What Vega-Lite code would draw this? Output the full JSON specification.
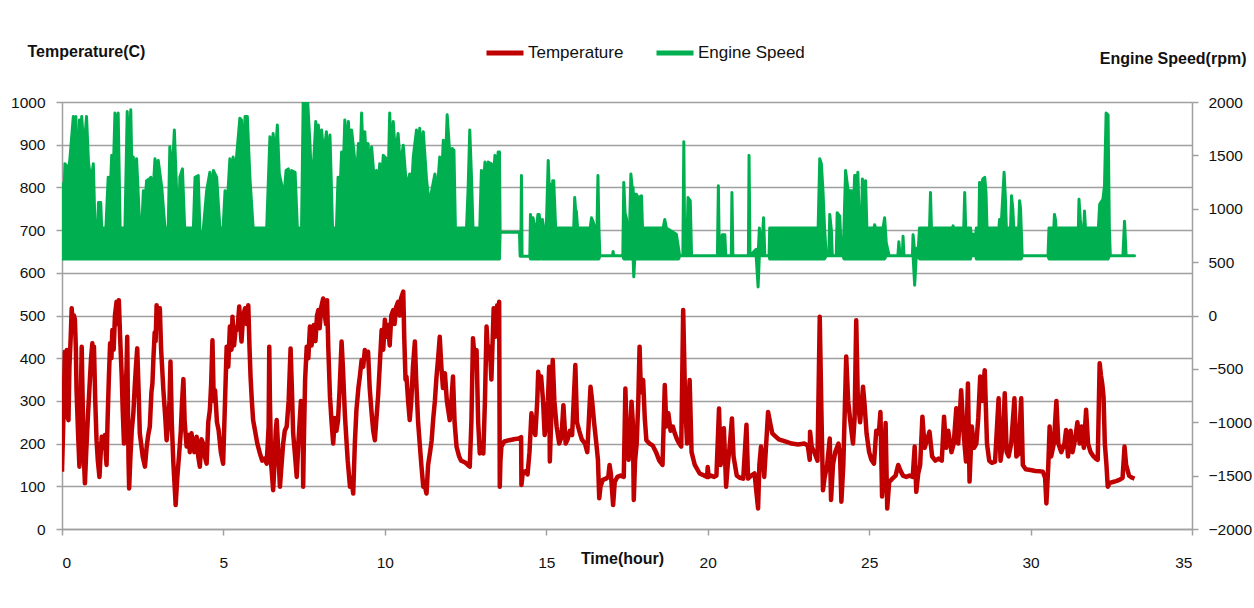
{
  "$schema": "https://vega.github.io/schema/vega-lite/v6.json",
  "width": 1130,
  "height": 427,
  "autosize": {"type": "none"},
  "padding": {"left": 62, "top": 102, "right": 62, "bottom": 79},
  "background": "white",
  "config": {
    "font": "Liberation Sans, Arial, sans-serif",
    "view": {"stroke": null},
    "axis": {
      "labelFontSize": 15.5,
      "labelColor": "#111111",
      "titleFontSize": 16,
      "titleFontWeight": "bold",
      "titleColor": "#111111",
      "domainColor": "#a0a0a0",
      "domainWidth": 1.5,
      "tickColor": "#a0a0a0",
      "tickWidth": 1.5,
      "tickSize": 6,
      "gridColor": "#a0a0a0",
      "gridWidth": 1.5
    },
    "legend": {
      "labelFontSize": 17,
      "labelColor": "#111111"
    }
  },
  "datasets": {
    "temp": [
      {"t":0.00,"v":134},{"t":0.04,"v":250},{"t":0.07,"v":349},{"t":0.09,"v":415},{"t":0.12,"v":300},{"t":0.15,"v":419},{"t":0.18,"v":260},{"t":0.20,"v":255},{"t":0.23,"v":380},{"t":0.27,"v":450},{"t":0.30,"v":517},{"t":0.33,"v":480},{"t":0.37,"v":500},{"t":0.40,"v":490},{"t":0.43,"v":420},{"t":0.45,"v":325},{"t":0.50,"v":220},{"t":0.54,"v":146},{"t":0.57,"v":250},{"t":0.61,"v":427},{"t":0.64,"v":300},{"t":0.67,"v":180},{"t":0.71,"v":107},{"t":0.75,"v":180},{"t":0.80,"v":260},{"t":0.85,"v":330},{"t":0.90,"v":400},{"t":0.94,"v":435},{"t":0.97,"v":380},{"t":0.99,"v":427},{"t":1.03,"v":300},{"t":1.07,"v":208},{"t":1.11,"v":160},{"t":1.16,"v":122},{"t":1.20,"v":180},{"t":1.23,"v":216},{"t":1.28,"v":190},{"t":1.33,"v":220},{"t":1.36,"v":170},{"t":1.38,"v":150},{"t":1.41,"v":250},{"t":1.45,"v":350},{"t":1.49,"v":435},{"t":1.53,"v":400},{"t":1.56,"v":466},{"t":1.60,"v":420},{"t":1.64,"v":500},{"t":1.69,"v":532},{"t":1.72,"v":480},{"t":1.76,"v":536},{"t":1.80,"v":450},{"t":1.85,"v":357},{"t":1.88,"v":280},{"t":1.92,"v":200},{"t":1.96,"v":300},{"t":2.00,"v":380},{"t":2.02,"v":450},{"t":2.04,"v":300},{"t":2.06,"v":160},{"t":2.08,"v":95},{"t":2.12,"v":170},{"t":2.16,"v":230},{"t":2.21,"v":271},{"t":2.25,"v":330},{"t":2.29,"v":380},{"t":2.33,"v":423},{"t":2.37,"v":330},{"t":2.41,"v":224},{"t":2.45,"v":200},{"t":2.50,"v":170},{"t":2.57,"v":146},{"t":2.62,"v":190},{"t":2.67,"v":220},{"t":2.72,"v":240},{"t":2.77,"v":320},{"t":2.80,"v":340},{"t":2.83,"v":396},{"t":2.87,"v":460},{"t":2.90,"v":440},{"t":2.93,"v":524},{"t":2.97,"v":490},{"t":3.00,"v":510},{"t":3.03,"v":517},{"t":3.07,"v":420},{"t":3.10,"v":380},{"t":3.14,"v":325},{"t":3.20,"v":260},{"t":3.24,"v":208},{"t":3.29,"v":250},{"t":3.33,"v":300},{"t":3.36,"v":392},{"t":3.40,"v":250},{"t":3.45,"v":153},{"t":3.49,"v":100},{"t":3.52,"v":56},{"t":3.57,"v":120},{"t":3.63,"v":177},{"t":3.68,"v":230},{"t":3.72,"v":300},{"t":3.76,"v":351},{"t":3.80,"v":250},{"t":3.86,"v":193},{"t":3.92,"v":220},{"t":3.96,"v":180},{"t":4.01,"v":224},{"t":4.06,"v":200},{"t":4.10,"v":180},{"t":4.17,"v":216},{"t":4.22,"v":170},{"t":4.27,"v":146},{"t":4.32,"v":210},{"t":4.37,"v":200},{"t":4.42,"v":170},{"t":4.48,"v":153},{"t":4.53,"v":250},{"t":4.58,"v":279},{"t":4.62,"v":340},{"t":4.66,"v":442},{"t":4.70,"v":300},{"t":4.74,"v":325},{"t":4.80,"v":250},{"t":4.85,"v":232},{"t":4.92,"v":180},{"t":4.99,"v":153},{"t":5.05,"v":300},{"t":5.10,"v":427},{"t":5.15,"v":380},{"t":5.20,"v":474},{"t":5.25,"v":420},{"t":5.28,"v":497},{"t":5.33,"v":430},{"t":5.38,"v":470},{"t":5.41,"v":466},{"t":5.45,"v":480},{"t":5.49,"v":521},{"t":5.53,"v":470},{"t":5.56,"v":439},{"t":5.61,"v":500},{"t":5.67,"v":517},{"t":5.72,"v":480},{"t":5.77,"v":524},{"t":5.81,"v":420},{"t":5.84,"v":357},{"t":5.88,"v":300},{"t":5.92,"v":255},{"t":5.98,"v":230},{"t":6.05,"v":200},{"t":6.13,"v":177},{"t":6.20,"v":160},{"t":6.27,"v":165},{"t":6.34,"v":153},{"t":6.40,"v":240},{"t":6.42,"v":427},{"t":6.44,"v":300},{"t":6.48,"v":150},{"t":6.54,"v":91},{"t":6.58,"v":150},{"t":6.62,"v":230},{"t":6.65,"v":255},{"t":6.70,"v":180},{"t":6.75,"v":99},{"t":6.80,"v":150},{"t":6.85,"v":200},{"t":6.90,"v":230},{"t":6.96,"v":240},{"t":7.02,"v":300},{"t":7.08,"v":423},{"t":7.12,"v":330},{"t":7.16,"v":224},{"t":7.22,"v":170},{"t":7.27,"v":122},{"t":7.32,"v":200},{"t":7.36,"v":250},{"t":7.40,"v":300},{"t":7.44,"v":280},{"t":7.46,"v":200},{"t":7.47,"v":99},{"t":7.49,"v":200},{"t":7.53,"v":350},{"t":7.58,"v":427},{"t":7.63,"v":400},{"t":7.68,"v":474},{"t":7.73,"v":430},{"t":7.80,"v":478},{"t":7.85,"v":440},{"t":7.90,"v":500},{"t":7.94,"v":513},{"t":7.98,"v":470},{"t":8.03,"v":520},{"t":8.09,"v":540},{"t":8.14,"v":500},{"t":8.18,"v":480},{"t":8.21,"v":536},{"t":8.25,"v":420},{"t":8.30,"v":310},{"t":8.35,"v":250},{"t":8.40,"v":200},{"t":8.45,"v":260},{"t":8.50,"v":230},{"t":8.55,"v":255},{"t":8.60,"v":330},{"t":8.66,"v":439},{"t":8.70,"v":380},{"t":8.76,"v":271},{"t":8.80,"v":220},{"t":8.85,"v":160},{"t":8.92,"v":99},{"t":8.96,"v":120},{"t":9.02,"v":83},{"t":9.07,"v":200},{"t":9.12,"v":279},{"t":9.18,"v":330},{"t":9.23,"v":360},{"t":9.28,"v":396},{"t":9.33,"v":380},{"t":9.38,"v":419},{"t":9.43,"v":400},{"t":9.48,"v":415},{"t":9.53,"v":330},{"t":9.59,"v":271},{"t":9.64,"v":230},{"t":9.69,"v":208},{"t":9.74,"v":260},{"t":9.79,"v":310},{"t":9.84,"v":380},{"t":9.90,"v":466},{"t":9.95,"v":420},{"t":10.00,"v":490},{"t":10.05,"v":450},{"t":10.10,"v":478},{"t":10.15,"v":430},{"t":10.20,"v":500},{"t":10.26,"v":513},{"t":10.30,"v":480},{"t":10.35,"v":520},{"t":10.41,"v":532},{"t":10.46,"v":500},{"t":10.50,"v":540},{"t":10.57,"v":556},{"t":10.60,"v":450},{"t":10.64,"v":350},{"t":10.67,"v":357},{"t":10.72,"v":300},{"t":10.77,"v":255},{"t":10.82,"v":300},{"t":10.87,"v":380},{"t":10.93,"v":439},{"t":10.97,"v":350},{"t":11.03,"v":250},{"t":11.08,"v":200},{"t":11.13,"v":150},{"t":11.19,"v":99},{"t":11.24,"v":100},{"t":11.29,"v":83},{"t":11.34,"v":150},{"t":11.40,"v":180},{"t":11.45,"v":208},{"t":11.50,"v":260},{"t":11.55,"v":300},{"t":11.60,"v":357},{"t":11.65,"v":400},{"t":11.70,"v":450},{"t":11.75,"v":380},{"t":11.80,"v":330},{"t":11.86,"v":365},{"t":11.92,"v":300},{"t":11.96,"v":280},{"t":12.01,"v":255},{"t":12.06,"v":300},{"t":12.11,"v":357},{"t":12.16,"v":250},{"t":12.22,"v":193},{"t":12.30,"v":170},{"t":12.36,"v":160},{"t":12.42,"v":158},{"t":12.50,"v":155},{"t":12.57,"v":150},{"t":12.63,"v":146},{"t":12.68,"v":250},{"t":12.73,"v":447},{"t":12.78,"v":400},{"t":12.84,"v":419},{"t":12.89,"v":250},{"t":12.94,"v":177},{"t":13.00,"v":200},{"t":13.05,"v":177},{"t":13.10,"v":300},{"t":13.15,"v":474},{"t":13.20,"v":400},{"t":13.25,"v":427},{"t":13.30,"v":350},{"t":13.37,"v":517},{"t":13.42,"v":450},{"t":13.48,"v":524},{"t":13.52,"v":510},{"t":13.54,"v":532},{"t":13.56,"v":99},{"t":13.58,"v":160},{"t":13.61,"v":193},{"t":13.70,"v":205},{"t":13.85,"v":208},{"t":14.00,"v":210},{"t":14.15,"v":212},{"t":14.22,"v":215},{"t":14.23,"v":103},{"t":14.27,"v":130},{"t":14.35,"v":135},{"t":14.42,"v":128},{"t":14.48,"v":180},{"t":14.54,"v":271},{"t":14.60,"v":240},{"t":14.66,"v":220},{"t":14.72,"v":300},{"t":14.75,"v":368},{"t":14.80,"v":330},{"t":14.84,"v":357},{"t":14.90,"v":300},{"t":14.95,"v":220},{"t":15.00,"v":250},{"t":15.05,"v":300},{"t":15.09,"v":380},{"t":15.11,"v":158},{"t":15.15,"v":250},{"t":15.20,"v":396},{"t":15.25,"v":300},{"t":15.32,"v":240},{"t":15.40,"v":200},{"t":15.47,"v":215},{"t":15.53,"v":290},{"t":15.60,"v":200},{"t":15.66,"v":210},{"t":15.73,"v":230},{"t":15.80,"v":220},{"t":15.90,"v":384},{"t":15.95,"v":250},{"t":16.02,"v":230},{"t":16.10,"v":210},{"t":16.20,"v":200},{"t":16.27,"v":180},{"t":16.37,"v":333},{"t":16.42,"v":300},{"t":16.48,"v":250},{"t":16.55,"v":200},{"t":16.60,"v":162},{"t":16.64,"v":72},{"t":16.68,"v":100},{"t":16.75,"v":115},{"t":16.85,"v":118},{"t":16.92,"v":122},{"t":16.96,"v":150},{"t":17.00,"v":130},{"t":17.07,"v":56},{"t":17.12,"v":110},{"t":17.20,"v":122},{"t":17.30,"v":125},{"t":17.40,"v":122},{"t":17.45,"v":329},{"t":17.50,"v":200},{"t":17.55,"v":162},{"t":17.60,"v":230},{"t":17.64,"v":298},{"t":17.68,"v":250},{"t":17.71,"v":68},{"t":17.75,"v":160},{"t":17.80,"v":200},{"t":17.85,"v":300},{"t":17.89,"v":427},{"t":17.93,"v":320},{"t":18.00,"v":349},{"t":18.05,"v":260},{"t":18.10,"v":208},{"t":18.20,"v":200},{"t":18.30,"v":195},{"t":18.40,"v":180},{"t":18.50,"v":160},{"t":18.60,"v":150},{"t":18.67,"v":337},{"t":18.72,"v":240},{"t":18.78,"v":271},{"t":18.85,"v":230},{"t":18.92,"v":240},{"t":18.98,"v":224},{"t":19.05,"v":210},{"t":19.12,"v":200},{"t":19.18,"v":193},{"t":19.24,"v":513},{"t":19.30,"v":300},{"t":19.36,"v":200},{"t":19.44,"v":349},{"t":19.50,"v":180},{"t":19.60,"v":150},{"t":19.75,"v":130},{"t":19.90,"v":125},{"t":19.98,"v":122},{"t":20.00,"v":145},{"t":20.03,"v":122},{"t":20.10,"v":125},{"t":20.20,"v":122},{"t":20.27,"v":125},{"t":20.35,"v":282},{"t":20.40,"v":150},{"t":20.45,"v":180},{"t":20.50,"v":236},{"t":20.54,"v":160},{"t":20.57,"v":99},{"t":20.62,"v":150},{"t":20.68,"v":193},{"t":20.75,"v":259},{"t":20.80,"v":170},{"t":20.90,"v":125},{"t":21.00,"v":120},{"t":21.10,"v":118},{"t":21.20,"v":244},{"t":21.25,"v":118},{"t":21.35,"v":125},{"t":21.45,"v":130},{"t":21.56,"v":48},{"t":21.60,"v":150},{"t":21.65,"v":193},{"t":21.70,"v":170},{"t":21.75,"v":122},{"t":21.87,"v":274},{"t":21.93,"v":250},{"t":22.00,"v":224},{"t":22.20,"v":210},{"t":22.40,"v":205},{"t":22.60,"v":200},{"t":22.80,"v":198},{"t":23.00,"v":200},{"t":23.10,"v":195},{"t":23.16,"v":162},{"t":23.17,"v":228},{"t":23.22,"v":193},{"t":23.30,"v":180},{"t":23.40,"v":160},{"t":23.47,"v":497},{"t":23.52,"v":280},{"t":23.57,"v":91},{"t":23.62,"v":120},{"t":23.70,"v":150},{"t":23.78,"v":212},{"t":23.82,"v":68},{"t":23.88,"v":150},{"t":23.95,"v":180},{"t":24.05,"v":200},{"t":24.10,"v":170},{"t":24.14,"v":64},{"t":24.20,"v":150},{"t":24.29,"v":404},{"t":24.35,"v":300},{"t":24.42,"v":250},{"t":24.50,"v":200},{"t":24.55,"v":260},{"t":24.60,"v":489},{"t":24.65,"v":300},{"t":24.72,"v":250},{"t":24.81,"v":333},{"t":24.86,"v":290},{"t":24.92,"v":224},{"t":25.00,"v":180},{"t":25.07,"v":162},{"t":25.15,"v":153},{"t":25.22,"v":230},{"t":25.30,"v":224},{"t":25.35,"v":274},{"t":25.40,"v":76},{"t":25.45,"v":130},{"t":25.51,"v":248},{"t":25.56,"v":48},{"t":25.62,"v":110},{"t":25.72,"v":118},{"t":25.82,"v":125},{"t":25.90,"v":150},{"t":25.98,"v":135},{"t":26.05,"v":125},{"t":26.15,"v":122},{"t":26.25,"v":125},{"t":26.35,"v":122},{"t":26.41,"v":193},{"t":26.46,"v":87},{"t":26.52,"v":130},{"t":26.58,"v":150},{"t":26.65,"v":263},{"t":26.72,"v":190},{"t":26.80,"v":210},{"t":26.87,"v":228},{"t":26.95,"v":170},{"t":27.05,"v":160},{"t":27.15,"v":165},{"t":27.25,"v":160},{"t":27.32,"v":263},{"t":27.38,"v":190},{"t":27.45,"v":230},{"t":27.55,"v":180},{"t":27.62,"v":200},{"t":27.70,"v":283},{"t":27.76,"v":200},{"t":27.85,"v":325},{"t":27.92,"v":230},{"t":28.00,"v":158},{"t":28.06,"v":341},{"t":28.11,"v":111},{"t":28.18,"v":240},{"t":28.25,"v":190},{"t":28.32,"v":200},{"t":28.38,"v":260},{"t":28.44,"v":357},{"t":28.50,"v":300},{"t":28.58,"v":372},{"t":28.65,"v":200},{"t":28.72,"v":160},{"t":28.80,"v":155},{"t":28.90,"v":158},{"t":29.01,"v":306},{"t":29.07,"v":160},{"t":29.14,"v":200},{"t":29.20,"v":318},{"t":29.26,"v":180},{"t":29.32,"v":170},{"t":29.40,"v":200},{"t":29.50,"v":306},{"t":29.56,"v":170},{"t":29.62,"v":175},{"t":29.71,"v":306},{"t":29.76,"v":150},{"t":29.85,"v":140},{"t":30.00,"v":138},{"t":30.15,"v":136},{"t":30.30,"v":135},{"t":30.38,"v":134},{"t":30.45,"v":120},{"t":30.49,"v":60},{"t":30.55,"v":150},{"t":30.59,"v":240},{"t":30.64,"v":170},{"t":30.72,"v":200},{"t":30.80,"v":300},{"t":30.86,"v":200},{"t":30.95,"v":180},{"t":31.05,"v":200},{"t":31.10,"v":232},{"t":31.16,"v":170},{"t":31.24,"v":230},{"t":31.30,"v":180},{"t":31.38,"v":210},{"t":31.45,"v":250},{"t":31.52,"v":200},{"t":31.58,"v":240},{"t":31.65,"v":190},{"t":31.72,"v":279},{"t":31.78,"v":200},{"t":31.86,"v":180},{"t":31.95,"v":170},{"t":32.02,"v":165},{"t":32.08,"v":162},{"t":32.14,"v":388},{"t":32.18,"v":360},{"t":32.22,"v":340},{"t":32.26,"v":310},{"t":32.30,"v":200},{"t":32.35,"v":150},{"t":32.39,"v":99},{"t":32.45,"v":108},{"t":32.55,"v":110},{"t":32.65,"v":112},{"t":32.75,"v":115},{"t":32.85,"v":120},{"t":32.91,"v":193},{"t":32.96,"v":150},{"t":33.05,"v":125},{"t":33.15,"v":120},{"t":33.22,"v":118}
    ],
    "speed": [
      {"t":0.00,"lo":530,"hi":1232},{"t":0.04,"lo":530,"hi":900},{"t":0.09,"lo":530,"hi":1421},{"t":0.15,"lo":530,"hi":1400},{"t":0.20,"lo":530,"hi":1326},{"t":0.25,"lo":530,"hi":1485},{"t":0.35,"lo":530,"hi":1864},{"t":0.39,"lo":530,"hi":1500},{"t":0.43,"lo":530,"hi":1864},{"t":0.47,"lo":530,"hi":1105},{"t":0.54,"lo":530,"hi":1832},{"t":0.58,"lo":530,"hi":1450},{"t":0.61,"lo":530,"hi":1864},{"t":0.68,"lo":530,"hi":1550},{"t":0.76,"lo":530,"hi":1864},{"t":0.82,"lo":530,"hi":1437},{"t":0.90,"lo":530,"hi":1250},{"t":0.97,"lo":530,"hi":1421},{"t":1.02,"lo":530,"hi":852},{"t":1.07,"lo":530,"hi":568},{"t":1.13,"lo":530,"hi":1058},{"t":1.20,"lo":530,"hi":1058},{"t":1.23,"lo":530,"hi":820},{"t":1.36,"lo":530,"hi":820},{"t":1.43,"lo":530,"hi":1295},{"t":1.49,"lo":530,"hi":1150},{"t":1.54,"lo":530,"hi":1500},{"t":1.59,"lo":530,"hi":1350},{"t":1.64,"lo":530,"hi":1896},{"t":1.69,"lo":530,"hi":1600},{"t":1.74,"lo":530,"hi":1896},{"t":1.80,"lo":530,"hi":820},{"t":1.95,"lo":530,"hi":820},{"t":2.02,"lo":530,"hi":1911},{"t":2.07,"lo":530,"hi":1500},{"t":2.13,"lo":530,"hi":1927},{"t":2.17,"lo":530,"hi":1300},{"t":2.21,"lo":530,"hi":1485},{"t":2.26,"lo":530,"hi":1250},{"t":2.31,"lo":530,"hi":1469},{"t":2.41,"lo":530,"hi":820},{"t":2.47,"lo":530,"hi":820},{"t":2.52,"lo":530,"hi":1168},{"t":2.57,"lo":530,"hi":1050},{"t":2.62,"lo":530,"hi":1263},{"t":2.70,"lo":530,"hi":1280},{"t":2.72,"lo":530,"hi":600},{"t":2.75,"lo":530,"hi":1295},{"t":2.82,"lo":530,"hi":1150},{"t":2.88,"lo":530,"hi":1469},{"t":2.93,"lo":530,"hi":1250},{"t":2.98,"lo":530,"hi":1453},{"t":3.09,"lo":530,"hi":1200},{"t":3.19,"lo":530,"hi":820},{"t":3.29,"lo":530,"hi":820},{"t":3.34,"lo":530,"hi":1580},{"t":3.41,"lo":530,"hi":1300},{"t":3.48,"lo":530,"hi":1738},{"t":3.55,"lo":530,"hi":1168},{"t":3.60,"lo":530,"hi":600},{"t":3.65,"lo":530,"hi":1295},{"t":3.73,"lo":530,"hi":1374},{"t":3.80,"lo":530,"hi":820},{"t":4.07,"lo":530,"hi":820},{"t":4.12,"lo":530,"hi":1295},{"t":4.22,"lo":530,"hi":1311},{"t":4.27,"lo":530,"hi":820},{"t":4.32,"lo":530,"hi":600},{"t":4.38,"lo":530,"hi":820},{"t":4.48,"lo":530,"hi":1168},{"t":4.58,"lo":530,"hi":1342},{"t":4.64,"lo":530,"hi":1150},{"t":4.69,"lo":530,"hi":1358},{"t":4.79,"lo":530,"hi":1295},{"t":4.89,"lo":530,"hi":820},{"t":4.99,"lo":530,"hi":820},{"t":5.05,"lo":530,"hi":1168},{"t":5.12,"lo":530,"hi":1050},{"t":5.20,"lo":530,"hi":1469},{"t":5.25,"lo":530,"hi":1250},{"t":5.30,"lo":530,"hi":1485},{"t":5.36,"lo":530,"hi":1300},{"t":5.41,"lo":530,"hi":1500},{"t":5.51,"lo":530,"hi":1848},{"t":5.56,"lo":530,"hi":1832},{"t":5.61,"lo":530,"hi":1450},{"t":5.67,"lo":530,"hi":1864},{"t":5.74,"lo":530,"hi":1864},{"t":5.82,"lo":530,"hi":1295},{"t":5.92,"lo":530,"hi":820},{"t":6.34,"lo":530,"hi":820},{"t":6.44,"lo":530,"hi":1674},{"t":6.49,"lo":530,"hi":1400},{"t":6.54,"lo":530,"hi":1706},{"t":6.60,"lo":530,"hi":1450},{"t":6.67,"lo":530,"hi":1785},{"t":6.73,"lo":530,"hi":1326},{"t":6.80,"lo":530,"hi":1232},{"t":6.87,"lo":530,"hi":1100},{"t":6.94,"lo":530,"hi":1358},{"t":7.01,"lo":530,"hi":1374},{"t":7.06,"lo":530,"hi":1150},{"t":7.11,"lo":530,"hi":1358},{"t":7.22,"lo":530,"hi":1342},{"t":7.29,"lo":530,"hi":820},{"t":7.42,"lo":530,"hi":820},{"t":7.47,"lo":530,"hi":2000},{"t":7.61,"lo":530,"hi":2000},{"t":7.68,"lo":530,"hi":1611},{"t":7.73,"lo":530,"hi":1250},{"t":7.78,"lo":530,"hi":1358},{"t":7.86,"lo":530,"hi":1817},{"t":7.90,"lo":530,"hi":1500},{"t":7.94,"lo":530,"hi":1785},{"t":8.00,"lo":530,"hi":1450},{"t":8.04,"lo":530,"hi":1738},{"t":8.11,"lo":530,"hi":1500},{"t":8.19,"lo":530,"hi":1722},{"t":8.24,"lo":530,"hi":1450},{"t":8.30,"lo":530,"hi":1690},{"t":8.38,"lo":530,"hi":820},{"t":8.50,"lo":530,"hi":820},{"t":8.55,"lo":530,"hi":1295},{"t":8.61,"lo":530,"hi":1150},{"t":8.66,"lo":530,"hi":1532},{"t":8.71,"lo":530,"hi":1350},{"t":8.76,"lo":530,"hi":1832},{"t":8.82,"lo":530,"hi":1500},{"t":8.87,"lo":530,"hi":1817},{"t":8.92,"lo":530,"hi":1550},{"t":8.97,"lo":530,"hi":1738},{"t":9.07,"lo":530,"hi":1453},{"t":9.12,"lo":530,"hi":1250},{"t":9.18,"lo":530,"hi":1611},{"t":9.23,"lo":530,"hi":1400},{"t":9.28,"lo":530,"hi":1896},{"t":9.33,"lo":530,"hi":1450},{"t":9.38,"lo":530,"hi":1722},{"t":9.43,"lo":530,"hi":1400},{"t":9.48,"lo":530,"hi":1611},{"t":9.53,"lo":530,"hi":1350},{"t":9.59,"lo":530,"hi":1579},{"t":9.69,"lo":530,"hi":1200},{"t":9.74,"lo":530,"hi":1358},{"t":9.79,"lo":530,"hi":1150},{"t":9.84,"lo":530,"hi":1421},{"t":9.90,"lo":530,"hi":1250},{"t":9.95,"lo":530,"hi":1500},{"t":10.05,"lo":530,"hi":1469},{"t":10.10,"lo":530,"hi":1250},{"t":10.15,"lo":530,"hi":1896},{"t":10.20,"lo":530,"hi":1450},{"t":10.26,"lo":530,"hi":1817},{"t":10.33,"lo":530,"hi":1500},{"t":10.41,"lo":530,"hi":1706},{"t":10.48,"lo":530,"hi":1400},{"t":10.57,"lo":530,"hi":1595},{"t":10.67,"lo":530,"hi":1200},{"t":10.77,"lo":530,"hi":1326},{"t":10.82,"lo":530,"hi":1150},{"t":10.88,"lo":530,"hi":1485},{"t":10.98,"lo":530,"hi":1738},{"t":11.03,"lo":530,"hi":1450},{"t":11.08,"lo":530,"hi":1754},{"t":11.13,"lo":530,"hi":1500},{"t":11.19,"lo":530,"hi":1722},{"t":11.29,"lo":530,"hi":1279},{"t":11.37,"lo":530,"hi":1050},{"t":11.45,"lo":530,"hi":1168},{"t":11.55,"lo":530,"hi":1326},{"t":11.62,"lo":530,"hi":1150},{"t":11.70,"lo":530,"hi":1485},{"t":11.76,"lo":530,"hi":1300},{"t":11.81,"lo":530,"hi":1642},{"t":11.88,"lo":530,"hi":1450},{"t":11.93,"lo":530,"hi":1880},{"t":12.01,"lo":530,"hi":1516},{"t":12.05,"lo":530,"hi":1300},{"t":12.09,"lo":530,"hi":1564},{"t":12.14,"lo":530,"hi":1548},{"t":12.18,"lo":530,"hi":900},{"t":12.20,"lo":530,"hi":570},{"t":12.22,"lo":530,"hi":820},{"t":12.53,"lo":530,"hi":820},{"t":12.58,"lo":530,"hi":1200},{"t":12.63,"lo":530,"hi":1738},{"t":12.68,"lo":530,"hi":1326},{"t":12.73,"lo":530,"hi":820},{"t":12.94,"lo":530,"hi":820},{"t":12.99,"lo":530,"hi":1358},{"t":13.05,"lo":530,"hi":1200},{"t":13.10,"lo":530,"hi":1437},{"t":13.15,"lo":530,"hi":1250},{"t":13.20,"lo":530,"hi":1437},{"t":13.30,"lo":530,"hi":1421},{"t":13.36,"lo":530,"hi":1300},{"t":13.41,"lo":530,"hi":1500},{"t":13.46,"lo":530,"hi":1350},{"t":13.51,"lo":530,"hi":1532},{"t":13.55,"lo":530,"hi":1532},
      {"t":13.57,"lo":780,"hi":780},{"t":14.17,"lo":780,"hi":780},{"t":14.19,"lo":555,"hi":555},{"t":14.21,"lo":555,"hi":555},{"t":14.23,"lo":555,"hi":1311},{"t":14.25,"lo":555,"hi":555},{"t":14.49,"lo":555,"hi":555},{"t":14.51,"lo":530,"hi":947},{"t":14.55,"lo":530,"hi":850},{"t":14.59,"lo":530,"hi":915},{"t":14.64,"lo":530,"hi":820},{"t":14.70,"lo":530,"hi":820},{"t":14.74,"lo":530,"hi":947},{"t":14.78,"lo":530,"hi":947},{"t":14.82,"lo":530,"hi":820},{"t":14.85,"lo":555,"hi":580},{"t":14.88,"lo":530,"hi":900},{"t":14.92,"lo":530,"hi":820},{"t":15.00,"lo":530,"hi":820},{"t":15.06,"lo":530,"hi":1453},{"t":15.09,"lo":530,"hi":1200},{"t":15.11,"lo":530,"hi":1232},{"t":15.16,"lo":530,"hi":900},{"t":15.20,"lo":530,"hi":1263},{"t":15.23,"lo":530,"hi":1263},{"t":15.29,"lo":530,"hi":820},{"t":15.85,"lo":530,"hi":820},{"t":15.88,"lo":530,"hi":1105},{"t":15.91,"lo":530,"hi":980},{"t":15.93,"lo":530,"hi":980},{"t":15.97,"lo":530,"hi":820},{"t":16.36,"lo":530,"hi":820},{"t":16.40,"lo":530,"hi":915},{"t":16.45,"lo":530,"hi":880},{"t":16.50,"lo":530,"hi":820},{"t":16.53,"lo":530,"hi":700},{"t":16.57,"lo":530,"hi":820},{"t":16.60,"lo":530,"hi":1311},{"t":16.63,"lo":530,"hi":820},{"t":16.66,"lo":560,"hi":560},{"t":17.05,"lo":560,"hi":560},{"t":17.07,"lo":560,"hi":600},{"t":17.09,"lo":560,"hi":560},{"t":17.37,"lo":560,"hi":560},{"t":17.40,"lo":530,"hi":1247},{"t":17.44,"lo":530,"hi":960},{"t":17.48,"lo":530,"hi":915},{"t":17.51,"lo":530,"hi":820},{"t":17.58,"lo":530,"hi":820},{"t":17.62,"lo":530,"hi":1326},{"t":17.66,"lo":530,"hi":1200},{"t":17.69,"lo":530,"hi":1200},{"t":17.71,"lo":362,"hi":600},{"t":17.74,"lo":530,"hi":1137},{"t":17.79,"lo":530,"hi":1137},{"t":17.85,"lo":530,"hi":1100},{"t":17.95,"lo":530,"hi":1121},{"t":17.98,"lo":530,"hi":820},{"t":18.62,"lo":530,"hi":820},{"t":18.67,"lo":530,"hi":900},{"t":18.72,"lo":530,"hi":820},{"t":19.03,"lo":530,"hi":760},{"t":19.10,"lo":530,"hi":620},{"t":19.13,"lo":560,"hi":560},{"t":19.23,"lo":560,"hi":560},{"t":19.26,"lo":560,"hi":1627},{"t":19.29,"lo":560,"hi":560},{"t":19.35,"lo":560,"hi":600},{"t":19.39,"lo":560,"hi":1105},{"t":19.46,"lo":560,"hi":1074},{"t":19.50,"lo":560,"hi":560},{"t":20.30,"lo":560,"hi":560},{"t":20.33,"lo":560,"hi":1216},{"t":20.36,"lo":560,"hi":560},{"t":20.45,"lo":560,"hi":757},{"t":20.53,"lo":560,"hi":757},{"t":20.56,"lo":560,"hi":560},{"t":20.73,"lo":560,"hi":560},{"t":20.75,"lo":560,"hi":1153},{"t":20.78,"lo":560,"hi":560},{"t":21.26,"lo":560,"hi":560},{"t":21.28,"lo":560,"hi":1500},{"t":21.31,"lo":560,"hi":560},{"t":21.50,"lo":560,"hi":620},{"t":21.56,"lo":267,"hi":560},{"t":21.60,"lo":560,"hi":820},{"t":21.66,"lo":560,"hi":560},{"t":21.73,"lo":560,"hi":915},{"t":21.77,"lo":560,"hi":560},{"t":21.90,"lo":560,"hi":560},{"t":21.92,"lo":530,"hi":820},{"t":23.42,"lo":530,"hi":820},{"t":23.47,"lo":530,"hi":1469},{"t":23.52,"lo":530,"hi":1421},{"t":23.57,"lo":530,"hi":1168},{"t":23.62,"lo":530,"hi":820},{"t":23.67,"lo":560,"hi":560},{"t":23.75,"lo":560,"hi":560},{"t":23.78,"lo":560,"hi":947},{"t":23.83,"lo":560,"hi":800},{"t":23.86,"lo":560,"hi":560},{"t":23.98,"lo":560,"hi":560},{"t":24.01,"lo":560,"hi":963},{"t":24.09,"lo":560,"hi":930},{"t":24.14,"lo":560,"hi":560},{"t":24.19,"lo":560,"hi":560},{"t":24.22,"lo":530,"hi":820},{"t":24.27,"lo":530,"hi":1358},{"t":24.35,"lo":530,"hi":1168},{"t":24.45,"lo":530,"hi":1168},{"t":24.50,"lo":530,"hi":850},{"t":24.55,"lo":530,"hi":1311},{"t":24.58,"lo":530,"hi":1311},{"t":24.62,"lo":530,"hi":1000},{"t":24.65,"lo":530,"hi":1342},{"t":24.70,"lo":530,"hi":820},{"t":24.76,"lo":530,"hi":820},{"t":24.79,"lo":530,"hi":1279},{"t":24.85,"lo":530,"hi":1200},{"t":24.89,"lo":530,"hi":1263},{"t":24.93,"lo":530,"hi":820},{"t":25.15,"lo":530,"hi":820},{"t":25.17,"lo":530,"hi":850},{"t":25.20,"lo":530,"hi":820},{"t":25.43,"lo":530,"hi":820},{"t":25.48,"lo":530,"hi":915},{"t":25.53,"lo":560,"hi":680},{"t":25.62,"lo":560,"hi":560},{"t":25.89,"lo":560,"hi":560},{"t":25.92,"lo":560,"hi":690},{"t":25.96,"lo":560,"hi":560},{"t":26.03,"lo":560,"hi":560},{"t":26.05,"lo":560,"hi":742},{"t":26.08,"lo":560,"hi":560},{"t":26.34,"lo":560,"hi":560},{"t":26.36,"lo":560,"hi":757},{"t":26.41,"lo":283,"hi":600},{"t":26.46,"lo":560,"hi":630},{"t":26.51,"lo":560,"hi":560},{"t":26.56,"lo":530,"hi":820},{"t":26.87,"lo":530,"hi":820},{"t":26.90,"lo":530,"hi":1153},{"t":26.93,"lo":530,"hi":820},{"t":27.58,"lo":530,"hi":820},{"t":27.60,"lo":530,"hi":840},{"t":27.62,"lo":530,"hi":820},{"t":27.93,"lo":530,"hi":820},{"t":27.96,"lo":530,"hi":1153},{"t":27.99,"lo":530,"hi":820},{"t":28.14,"lo":530,"hi":820},{"t":28.16,"lo":560,"hi":760},{"t":28.30,"lo":560,"hi":760},{"t":28.32,"lo":530,"hi":820},{"t":28.40,"lo":530,"hi":820},{"t":28.42,"lo":530,"hi":1247},{"t":28.47,"lo":530,"hi":1200},{"t":28.52,"lo":530,"hi":1279},{"t":28.58,"lo":530,"hi":1295},{"t":28.62,"lo":530,"hi":1150},{"t":28.65,"lo":530,"hi":820},{"t":29.02,"lo":530,"hi":820},{"t":29.04,"lo":530,"hi":900},{"t":29.10,"lo":530,"hi":900},{"t":29.18,"lo":530,"hi":1342},{"t":29.22,"lo":530,"hi":1100},{"t":29.25,"lo":530,"hi":820},{"t":29.38,"lo":530,"hi":820},{"t":29.41,"lo":530,"hi":1121},{"t":29.45,"lo":530,"hi":1000},{"t":29.48,"lo":530,"hi":820},{"t":29.63,"lo":530,"hi":820},{"t":29.66,"lo":530,"hi":1074},{"t":29.69,"lo":530,"hi":1000},{"t":29.71,"lo":530,"hi":820},{"t":29.74,"lo":560,"hi":560},{"t":30.54,"lo":560,"hi":560},{"t":30.57,"lo":530,"hi":820},{"t":30.72,"lo":530,"hi":820},{"t":30.74,"lo":530,"hi":947},{"t":30.77,"lo":530,"hi":900},{"t":30.79,"lo":530,"hi":820},{"t":31.48,"lo":530,"hi":820},{"t":31.50,"lo":530,"hi":1089},{"t":31.54,"lo":530,"hi":900},{"t":31.57,"lo":530,"hi":820},{"t":31.65,"lo":530,"hi":820},{"t":31.67,"lo":530,"hi":979},{"t":31.70,"lo":530,"hi":820},{"t":32.10,"lo":530,"hi":820},{"t":32.14,"lo":530,"hi":1042},{"t":32.24,"lo":530,"hi":1089},{"t":32.29,"lo":530,"hi":1216},{"t":32.34,"lo":530,"hi":1896},{"t":32.40,"lo":530,"hi":1880},{"t":32.44,"lo":560,"hi":820},{"t":32.47,"lo":560,"hi":560},{"t":32.86,"lo":560,"hi":560},{"t":32.91,"lo":560,"hi":884},{"t":32.96,"lo":560,"hi":560},{"t":33.22,"lo":560,"hi":560}
    ]
  },
  "layer": [
    {
      "data": {"name": "temp"},
      "mark": {"type": "line", "strokeWidth": 4.5, "strokeJoin": "round", "clip": true},
      "encoding": {
        "x": {
          "field": "t", "type": "quantitative",
          "scale": {"domain": [0, 35], "nice": false, "zero": false},
          "axis": {
            "values": [0, 5, 10, 15, 20, 25, 30, 35],
            "format": "d",
            "grid": false,
            "labelPadding": 20,
            "title": "Time(hour)",
            "titleX": 560, "titleY": 34,
            "titleAlign": "center", "titleBaseline": "alphabetic"
          }
        },
        "y": {
          "field": "v", "type": "quantitative",
          "scale": {"domain": [0, 1000], "nice": false},
          "axis": {
            "orient": "left",
            "values": [0, 100, 200, 300, 400, 500, 600, 700, 800, 900, 1000],
            "format": "d",
            "grid": true,
            "labelPadding": 11,
            "title": "Temperature(C)",
            "titleAngle": 0, "titleAlign": "left", "titleBaseline": "alphabetic",
            "titleX": -35, "titleY": -46
          }
        },
        "color": {
          "datum": "Temperature",
          "type": "nominal",
          "scale": {"domain": ["Temperature", "Engine Speed"], "range": ["#C00000", "#00B050"]},
          "legend": {
            "title": null,
            "orient": "none",
            "direction": "horizontal",
            "legendX": 422,
            "legendY": -70,
            "padding": 0,
            "symbolType": "stroke",
            "symbolSize": 1369,
            "symbolStrokeWidth": 5,
            "labelOffset": 2,
            "columnPadding": 22
          }
        }
      }
    },
    {
      "data": {"name": "speed"},
      "mark": {"type": "area", "fill": "#00B050", "stroke": "#00B050", "strokeWidth": 3, "strokeJoin": "round", "clip": true},
      "encoding": {
        "x": {"field": "t", "type": "quantitative"},
        "y": {
          "field": "hi", "type": "quantitative",
          "scale": {"domain": [-2000, 2000], "nice": false, "zero": false},
          "axis": {
            "orient": "right",
            "values": [-2000, -1500, -1000, -500, 0, 500, 1000, 1500, 2000],
            "format": "d",
            "grid": false,
            "labelPadding": 10,
            "labelAlign": "left",
            "title": "Engine Speed(rpm)",
            "titleAngle": 0, "titleAlign": "right", "titleBaseline": "alphabetic",
            "titleX": 54, "titleY": -39
          }
        },
        "y2": {"field": "lo"}
      }
    }
  ],
  "resolve": {"scale": {"y": "independent"}}
}
